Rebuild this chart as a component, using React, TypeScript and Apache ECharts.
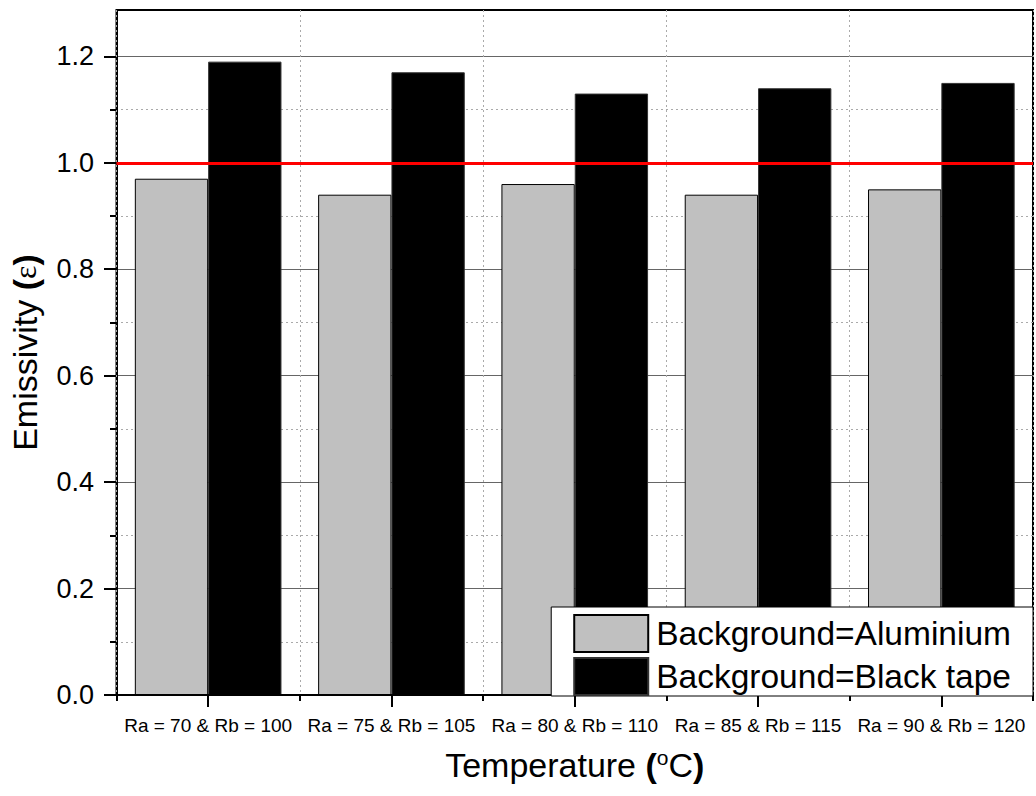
import React, { useEffect, useRef } from "react";
import * as echarts from "echarts";

// ---- data ----
const categories = [
  "Ra = 70 & Rb = 100",
  "Ra = 75 & Rb = 105",
  "Ra = 80 & Rb = 110",
  "Ra = 85 & Rb = 115",
  "Ra = 90 & Rb = 120",
];
const seriesNames = ["Background=Aluminium", "Background=Black tape"];
const aluminium = [0.97, 0.94, 0.96, 0.94, 0.95];
const blackTape = [1.19, 1.17, 1.13, 1.14, 1.15];
const referenceLevel = 1.0;
const yMin = 0;
const yMax = 1.287;
const yTickMax = 1.2;
const yInterval = 0.2;

// ---- layout ----
const W = 1036;
const H = 796;
const gridLeft = 116;
const gridRight = 3;
const gridTop = 10;
const gridBottom = 101;
const plotH = H - gridTop - gridBottom;
const tickGridTop = gridTop + plotH * (1 - yTickMax / yMax);
const FONT = "'Liberation Sans', Arial, sans-serif";

export default function App() {
  const ref = useRef<HTMLDivElement>(null);
  useEffect(() => {
    if (!ref.current) return;
    const chart = echarts.init(ref.current, null, { renderer: "svg", width: W, height: H });
    const option: any = {
      animation: false,
      backgroundColor: "#fff",
      textStyle: { fontFamily: FONT, color: "#000" },
      grid: [
        {
          left: gridLeft,
          right: gridRight,
          top: gridTop,
          bottom: gridBottom,
          show: true,
          borderColor: "#000",
          borderWidth: 2,
          backgroundColor: "transparent",
        },
        { left: gridLeft, right: gridRight, top: tickGridTop, bottom: gridBottom, show: false },
      ],
      legend: {
        orient: "vertical",
        right: 3,
        top: 607,
        padding: [7, 22, 0, 22],
        itemWidth: 74,
        itemHeight: 37,
        itemGap: 4,
        icon: "rect",
        selectedMode: false,
        backgroundColor: "#fff",
        borderColor: "#000",
        borderWidth: 1,
        textStyle: { fontSize: 33.5, color: "#000", fontFamily: FONT, padding: [0, 0, 0, 3] },
        data: seriesNames,
      },
      xAxis: [
        {
          gridIndex: 0,
          type: "category",
          data: categories,
          position: "bottom",
          z: 3,
          axisLine: { show: true, lineStyle: { color: "#000", width: 2 } },
          axisTick: { show: true, alignWithLabel: true, length: 12, lineStyle: { color: "#000", width: 2 } },
          axisLabel: { interval: 0, fontSize: 19, color: "#000", margin: 21, fontFamily: FONT },
          splitLine: { show: false },
          name: "{a|Temperature }{b|(}{s|o}{a|C}{b|)}",
          nameLocation: "middle",
          nameGap: 52,
          nameTextStyle: {
            color: "#000",
            rich: {
              a: { fontSize: 34, lineHeight: 36, fontFamily: FONT, color: "#000" },
              b: { fontSize: 34, lineHeight: 36, fontWeight: "bold", fontFamily: FONT, color: "#000" },
              s: { fontSize: 21, lineHeight: 21, verticalAlign: "top", fontFamily: FONT, color: "#000" },
            },
          },
        },
        {
          gridIndex: 0,
          type: "category",
          data: categories,
          position: "bottom",
          offset: 0,
          z: 3,
          axisLine: { show: false },
          axisTick: { show: true, length: 6, lineStyle: { color: "#000", width: 2 } },
          axisLabel: { show: false },
          splitLine: { show: true, lineStyle: { color: "#aaa", width: 1, type: [2, 3] } },
        },
        { gridIndex: 1, type: "category", data: categories, show: false },
      ],
      yAxis: [
        {
          gridIndex: 0,
          type: "value",
          min: yMin,
          max: yMax,
          axisLine: { show: true, lineStyle: { color: "#000", width: 2 } },
          axisTick: { show: false },
          axisLabel: { show: false },
          splitLine: { show: false },
          name: "{a|Emissivity }{b|(}{e|ε}{b|)}",
          nameLocation: "middle",
          nameGap: 74,
          nameTextStyle: {
            color: "#000",
            rich: {
              a: { fontSize: 34, lineHeight: 35, fontFamily: FONT, color: "#000" },
              b: { fontSize: 34, lineHeight: 35, fontWeight: "bold", fontFamily: FONT, color: "#000" },
              e: { fontSize: 32, lineHeight: 35, fontFamily: "'Liberation Serif', serif", color: "#000" },
            },
          },
        },
        {
          gridIndex: 1,
          type: "value",
          min: yMin,
          max: yTickMax,
          interval: yInterval,
          axisLine: { show: false },
          axisTick: { show: true, length: 12, lineStyle: { color: "#000", width: 2 } },
          minorTick: { show: true, splitNumber: 2, length: 6, lineStyle: { color: "#000", width: 2 } },
          axisLabel: {
            fontSize: 27,
            color: "#000",
            margin: 22,
            fontFamily: FONT,
            formatter: (v: number) => v.toFixed(1),
          },
          splitLine: { show: true, lineStyle: { color: "#666", width: 1 } },
          minorSplitLine: { show: true, lineStyle: { color: "#aaa", width: 1, type: [2, 3] } },
        },
      ],
      series: [
        {
          name: seriesNames[0],
          type: "bar",
          xAxisIndex: 0,
          yAxisIndex: 0,
          data: aluminium,
          barWidth: "40%",
          barGap: "0%",
          itemStyle: { color: "#c0c0c0", borderColor: "#000", borderWidth: 1 },
        },
        {
          name: seriesNames[1],
          type: "bar",
          xAxisIndex: 0,
          yAxisIndex: 0,
          data: blackTape,
          barWidth: "40%",
          barGap: "0%",
          itemStyle: { color: "#000", borderColor: "#333", borderWidth: 1 },
          markLine: {
            silent: true,
            symbol: ["none", "none"],
            label: { show: false },
            lineStyle: { color: "#ff0000", width: 3, type: "solid" },
            data: [{ yAxis: referenceLevel }],
          },
        },
      ],
    };
    chart.setOption(option);
    return () => chart.dispose();
  }, []);
  return (
    <div
      ref={ref}
      style={{ position: "absolute", left: 0, top: 0, width: W, height: H, background: "#fff" }}
    />
  );
}
